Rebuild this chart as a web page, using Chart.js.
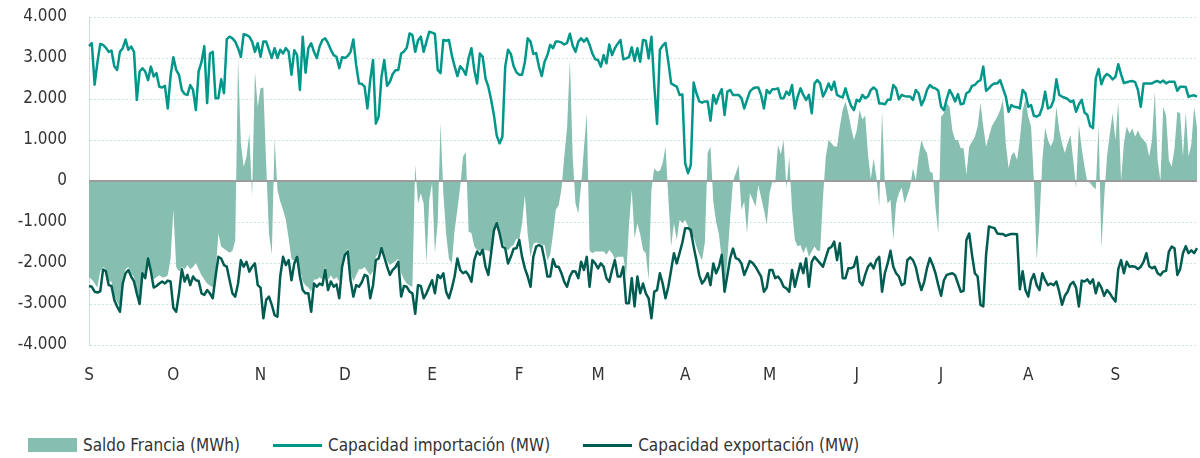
<!DOCTYPE html>
<html>
<head>
<meta charset="utf-8">
<script src="https://cdn.jsdelivr.net/npm/chart.js@4"></script>
<style>
  html, body { margin: 0; padding: 0; background: #fff; }
  #wrap { position: relative; width: 1200px; height: 458px; overflow: hidden; }
  #chart { position: absolute; left: 0; top: 0; }
  #legend {
    position: absolute; left: 28px; top: 435px; height: 20px;
    display: flex; align-items: center;
    font: 17px 'DejaVu Sans Condensed', 'DejaVu Sans', sans-serif; color: #333;
  }
  .item { display: flex; align-items: center; margin-right: 33px; }
  .swatch { width: 49px; margin-right: 6px; }
</style>
</head>
<body>
<div id="wrap">
  <canvas id="chart" width="1200" height="400"></canvas>
  <div id="legend"></div>
</div>
<script>
// daily values, 1 Sep 2022 .. 30 Sep 2023
const startDate = new Date(2022, 8, 1);
const monthInitials = ['E', 'F', 'M', 'A', 'M', 'J', 'J', 'A', 'S', 'O', 'N', 'D'];
const seriesNames = ['Saldo Francia (MWh)', 'Capacidad importación (MW)', 'Capacidad exportación (MW)'];

//Saldo Francia (MWh)
const saldoFrancia = [
  -2350, -2400, -2500, -2600, -2200, -2100, -2150, -2450, -2450, -2800,
  -2950, -3050, -2400, -2150, -2100, -2250, -2350, -2650, -2900, -2200,
  -2300, -1850, -2150, -2400, -2350, -2300, -2350, -2350, -2300, -1900,
  -700, -2100, -2200, -2100, -2150, -2050, -2150, -2100, -2000, -2150,
  -2300, -2400, -2500, -2550, -2600, -2250, -1280, -1600, -1650, -1700,
  -1750, -1700, -1450, 2990, 920, 350, 590, 1160, -380, 2670,
  1810, 2260, 2280, 400, -1280, -1790, 1040, -220, -500, -700,
  -950, -1400, -1900, -1950, -1800, -2150, -2450, -2550, -2600, -2700,
  -2400, -2400, -2350, -2400, -2100, -2400, -2300, -2400, -2350, -2450,
  -2000, -1750, -1650, -2200, -2450, -2300, -2150, -2150, -2100, -2200,
  -2300, -2200, -1850, -1750, -1600, -1750, -1950, -2050, -2000, -1950,
  -1900, -2250, -2400, -2500, -2550, -2580, 400, -550, -300, -550,
  -2000, -450, -50, -1760, -1000, 1400, -300, -1300, -1900, -2000,
  -1200, -700, -140, 600, 700, -1240, -1270, -1600, -1680, -1700,
  -1700, -1680, -1700, -1750, -1300, -1030, -1280, -1500, -1600, -1700,
  -1600, -1560, -1400, -1440, -1030, -340, -1300, -1850, -1530, -1500,
  -1520, -1550, -1560, -1930, -1800, -1300, -700, -600, -200, 600,
  1300, 2950, 600, -550, -790, -100, 800, 1650, -1700, -1760,
  -1720, -1720, -1720, -1720, -1800, -1680, -1760, -1900, -1850, -1850,
  -1850, -2330, -1100, -220, -1400, -1030, -1300, -1680, -1760, -2415,
  -200, 310, 230, 250, 430, 840, -400, -1600, -1030, -1440,
  -950, -1030, -950, -1100, -1400, -1360, -1600, -1800, -1930, -1500,
  680, 840, -500, -1000, -1300, -1900, -2660, -1900, -900, 0,
  190, 390, -700, -500, -1280, -300, -450, -630, -100, -400,
  -700, -1070, -300, -20, -50, 880, 650, 1000, -180, 590,
  -700, -1440, -1600, -1560, -1760, -1600, -1850, -1720, -1600, -1700,
  -1700, -400, 590, 1000, 920, 840, 840, 1330, 1730, 1940,
  1650, 1300, 1000, 1230, 1730, 1500, 1600, 650, 50, 550,
  100, -620, 1690, -60, -550, -460, -1440, -550, -300, -160,
  -550, -340, -140, 310, 20, 590, 1000, 800, 680, 230,
  190, -630, -1280, 1570, 1650, 1900, 1810, 1240, 1000, 1000,
  800, 800, 150, 840, 960, 1080, 1330, 1900, 1330, 840,
  1080, 1330, 1450, 1570, 1730, 1980, 920, 310, 630, 710,
  510, 1000, 1730, 1980, 1570, 1330, 0, -1930, -950, 500,
  1300, 1000, 840, 1000, 1810, 1250, 920, 680, 920, 1120,
  500, -180, 1370, 800, 350, -20, -40, -140, -200, 1370,
  -1640, -400, 600, 1150, 1650, 1000, 1940, 0, 920, 1330,
  1160, 1280, 1080, 1240, 1080, 1000, 920, 600, 1000, 2180,
  500, 0, 1810, 1600, 500, 350, 800, 1690, 1650, 600,
  1690, 600, 900, 1810, 1300
];

//Capacidad importación (MW)
const capImportacion = [
  3290, 3360, 2350, 2900, 3340, 3320, 3250, 3150, 3180, 2800,
  2710, 3150, 3240, 3450, 3200, 3280, 3150, 1980, 2670, 2750,
  2670, 2460, 2790, 2550, 2630, 2300, 2280, 2320, 1770, 2560,
  3020, 2710, 2590, 2220, 2120, 2100, 2340, 2220, 1730, 2680,
  2900, 3290, 1900, 3110, 3150, 2020, 2020, 2480, 2140, 3460,
  3520, 3480, 3400, 3240, 3030, 3580, 3560, 3520, 3400, 3150,
  3360, 3030, 3400, 3400, 3200, 3000, 3240, 3000, 3200, 3110,
  3240, 3150, 2590, 3190, 3070, 2220, 3520, 2640, 3240, 3360,
  3150, 3000, 3280, 3440, 3480, 3360, 3200, 3070, 3030, 2750,
  3020, 3000, 3050, 3150, 3450, 2830, 2380, 2370, 2300, 1770,
  2460, 2950, 1400, 1570, 2540, 2950, 2320, 2420, 2610, 2700,
  2710, 3110, 3160, 3250, 3600, 3560, 3150, 3430, 3520, 3150,
  3400, 3640, 3620, 3590, 2710, 2630, 3440, 3420, 3440, 3070,
  2800, 2560, 2800, 2720, 2590, 3000, 3240, 2710, 2380, 3110,
  3030, 2500, 2300, 1980, 1600, 1100, 920, 1080, 2790, 3200,
  3100, 2800, 2650, 2590, 2590, 2900, 3480, 3400, 3100, 3120,
  2790, 2560, 2910, 3070, 3320, 3240, 3400, 3400, 3380, 3330,
  3370, 3590, 3300, 3150, 3400, 3480, 3400, 3480, 3320, 3110,
  2970, 2950, 2790, 3070, 2870, 3330, 3070, 3240, 3350, 3440,
  2970, 2990, 3020, 3260, 2930, 3240, 2910, 3440, 3420, 2990,
  3520, 2340, 1390, 3200, 3300, 3370, 2910, 2380, 2340, 2300,
  2100, 2110, 430, 190, 390, 2400, 2140, 1940, 1910, 1940,
  1940, 1470, 2100, 1890, 2100, 2240, 1610, 2180, 2220, 2100,
  2100, 2100, 2020, 1770, 1980, 2180, 2250, 2280, 2280, 2100,
  1770, 2220, 2140, 2240, 2240, 2260, 2020, 2020, 2180, 2100,
  2340, 1770, 2060, 2260, 2100, 1980, 2100, 1650, 2380, 2460,
  2380, 2060, 2200, 2380, 2220, 2420, 2100, 2060, 2040, 2260,
  2020, 1830, 1730, 1980, 1940, 2100, 2020, 2060, 2220, 2280,
  2220, 1890, 1890, 1870, 1980, 1980, 2340, 2260, 1990, 2100,
  2070, 2060, 2060, 1980, 2220, 2140, 1850, 1990, 2220, 2340,
  2280, 2260, 2200, 1810, 1730, 2000, 2220, 2100, 1940, 2120,
  1870, 1890, 2140, 2180, 2320, 2340, 2420, 2460, 2790, 2200,
  2260, 2340, 2380, 2380, 2460, 2260, 2060, 1690, 1850, 1810,
  1800, 1770, 2220, 2140, 1810, 1850, 1590, 1570, 1610, 1800,
  2180, 1770, 1800, 1970, 2480, 2100, 2060, 2030, 2000, 1930,
  1960, 1690, 1870, 1980, 1670, 1610, 1340, 1290, 2500, 2730,
  2360, 2540, 2610, 2560, 2480, 2540, 2850, 2600, 2390, 2410,
  2430, 2440, 2410, 2220, 1810, 2380, 2380, 2380, 2380, 2420,
  2440, 2400, 2450, 2380, 2420, 2420, 2420, 2200, 2300, 2300,
  2290, 2050, 2080, 2090, 2060
];

//Capacidad exportación (MW)
const capExportacion = [
  -2560, -2580, -2700, -2720, -2690, -2160, -2200, -2540, -2560, -2900,
  -3060, -3190, -2500, -2250, -2170, -2330, -2450, -2740, -3000, -2250,
  -2370, -1890, -2200, -2600, -2560, -2500, -2450, -2500, -2430, -2450,
  -3100, -3190, -2740, -2150, -2450, -2290, -2540, -2330, -2420, -2440,
  -2740, -2780, -2660, -2740, -2860, -2330, -1850, -1890, -2050, -2090,
  -2420, -2740, -2820, -2500, -1930, -2090, -1970, -2210, -2090, -2010,
  -2540, -2600, -3350, -2900, -2820, -3020, -3270, -3310, -2330, -1850,
  -2050, -1930, -2420, -2010, -1850, -2330, -2660, -2740, -2740, -3190,
  -2500, -2580, -2500, -2540, -2170, -2660, -2450, -2580, -2520, -2860,
  -2090, -1800, -1720, -2420, -2820, -2540, -2580, -2470, -2290, -2320,
  -2860, -2540, -1930, -1890, -1640, -1850, -2090, -2290, -2170, -2100,
  -1970, -2820, -2560, -2580, -2700, -2740, -3240, -2540, -2560, -2860,
  -2740, -2580, -2420, -2740, -2290, -2370, -2250, -2700, -2860, -2620,
  -2330, -1890, -2170, -2250, -2210, -2300, -2460, -1930, -1720, -1800,
  -1680, -2090, -2290, -1760, -1200, -1030, -1280, -1600, -1640, -2010,
  -1850, -1650, -1640, -1440, -1850, -2130, -2330, -2580, -1850, -1600,
  -1560, -1600, -1930, -2330, -2330, -1910, -2090, -2090, -2250, -2460,
  -2580, -2330, -2200, -2210, -2370, -1970, -2170, -1850, -2580, -1930,
  -2010, -2130, -2010, -2090, -2370, -2460, -2170, -1930, -2330, -2330,
  -2090, -2980, -2980, -2370, -3060, -2330, -2740, -2500, -2740, -2860,
  -3350, -2700, -2660, -2250, -2500, -2860, -2580, -2170, -1760, -2010,
  -1760, -1500, -1150, -1150, -1195, -1600, -1930, -2300, -2500, -2410,
  -2250, -2540, -2010, -2250, -2090, -1800, -2700, -2300, -1880, -1650,
  -1880, -1910, -2010, -2290, -2130, -1950, -2000, -2090, -2210, -2330,
  -2700, -2600, -2170, -2170, -2370, -2330, -2420, -2580, -2620, -2700,
  -2170, -2580, -2290, -2010, -2250, -1890, -2580, -1970, -1850, -1930,
  -2010, -2090, -1870, -1650, -1610, -1480, -1930, -1520, -2370, -2370,
  -2130, -2130, -2090, -1850, -2450, -2540, -2290, -2090, -2010, -2130,
  -1930, -1850, -2700, -2250, -2010, -1700, -2090, -2250, -2330, -2540,
  -2500, -1930, -1860, -1930, -2100, -2420, -2660, -2460, -2120, -1880,
  -2040, -2250, -2540, -2800, -2420, -2290, -2270, -2250, -2300, -2500,
  -2700, -2680, -1440, -1280, -1800, -2250, -2330, -3020, -3060, -1800,
  -1110, -1130, -1150, -1280, -1290, -1290, -1340, -1310, -1290, -1290,
  -1300, -2640, -2200, -2660, -2820, -2420, -2270, -2540, -2660, -2250,
  -2420, -2540, -2500, -2540, -2450, -2700, -3020, -2800, -2700, -2520,
  -2460, -2600, -3060, -2430, -2450, -2400, -2500, -2400, -2740, -2480,
  -2600, -2800, -2660, -2740, -2850, -2940, -2150, -1930, -2250, -1970,
  -2090, -2080, -2090, -2150, -2090, -1970, -1760, -2080, -2130, -2090,
  -2250, -2300, -2210, -2190, -1720, -1600, -1640, -2290, -2150, -1760,
  -1590, -1760, -1690, -1760, -1640
];

const colors = ['#86bfb0', '#00978a', '#005c50'];
const fontFamily = "'DejaVu Sans Condensed', 'DejaVu Sans', sans-serif";
const clear = 'rgba(0,0,0,0)';

// one label per day
const days = [];
for (let i = 0; i < saldoFrancia.length; i++) {
    days.push(new Date(startDate.getFullYear(), startDate.getMonth(), startDate.getDate() + i));
}

// zero line drawn on top of the area
const zeroLine = {
    id: 'zeroLine',
    afterDatasetsDraw(chart) {
        const y = chart.scales.y.getPixelForValue(0);
        const area = chart.chartArea;
        const ctx = chart.ctx;
        ctx.save();
        ctx.strokeStyle = '#9c9c9c';
        ctx.lineWidth = 2;
        ctx.beginPath();
        ctx.moveTo(area.left, y);
        ctx.lineTo(area.right, y);
        ctx.stroke();
        ctx.restore();
    }
};

new Chart(document.getElementById('chart'), {
    type: 'line',
    data: {
        labels: days,
        datasets: [
            {
                label: seriesNames[0],
                data: saldoFrancia,
                fill: 'origin',
                backgroundColor: colors[0],
                borderColor: clear,
                borderWidth: 0,
                pointRadius: 0,
                order: 3
            },
            {
                label: seriesNames[1],
                data: capImportacion,
                fill: false,
                borderColor: colors[1],
                borderWidth: 2.5,
                borderJoinStyle: 'round',
                pointRadius: 0,
                order: 2
            },
            {
                label: seriesNames[2],
                data: capExportacion,
                fill: false,
                borderColor: colors[2],
                borderWidth: 2.5,
                borderJoinStyle: 'round',
                pointRadius: 0,
                order: 1
            }
        ]
    },
    options: {
        responsive: false,
        animation: false,
        events: [],
        layout: {padding: {top: 17, right: 3, left: 0, bottom: 0}},
        plugins: {
            legend: {display: false},
            tooltip: {enabled: false}
        },
        scales: {
            x: {
                type: 'category',
                // invisible tick marks push the month letters down
                grid: {color: clear, tickColor: clear, drawOnChartArea: false, drawTicks: true, tickLength: 20},
                border: {display: false},
                afterFit(scale) { scale.height = 55; },
                ticks: {
                    autoSkip: false,
                    maxRotation: 0,
                    padding: 0,
                    color: '#333',
                    font: {family: fontFamily, size: 17},
                    callback(value, index) {
                        const d = days[index];
                        return d.getDate() === 1 ? monthInitials[d.getMonth()] : '';
                    }
                }
            },
            y: {
                min: -4000,
                max: 4000,
                afterFit(scale) { scale.width = 89; },
                grid: {
                    drawTicks: true,
                    tickLength: 22,
                    tickColor: clear,
                    color: ctx => ctx.tick && ctx.tick.value === 0 ? clear : '#cfe4dd',
                    lineWidth: 1
                },
                border: {display: true, color: '#c8e2d9', width: 1, dash: [2, 2]},
                ticks: {
                    stepSize: 1000,
                    padding: 0,
                    color: '#333',
                    font: {family: fontFamily, size: 17},
                    callback: v => v.toString().replace(/\B(?=(\d{3})+(?!\d))/g, '.')
                }
            }
        }
    },
    plugins: [zeroLine]
});

// legend
const legend = document.getElementById('legend');
seriesNames.forEach((name, i) => {
    const item = document.createElement('div');
    item.className = 'item';
    const sw = document.createElement('span');
    sw.className = 'swatch';
    sw.style.height = i === 0 ? '14px' : '3px';
    sw.style.background = colors[i];
    item.appendChild(sw);
    item.appendChild(document.createTextNode(name));
    legend.appendChild(item);
});
</script>
</body>
</html>
